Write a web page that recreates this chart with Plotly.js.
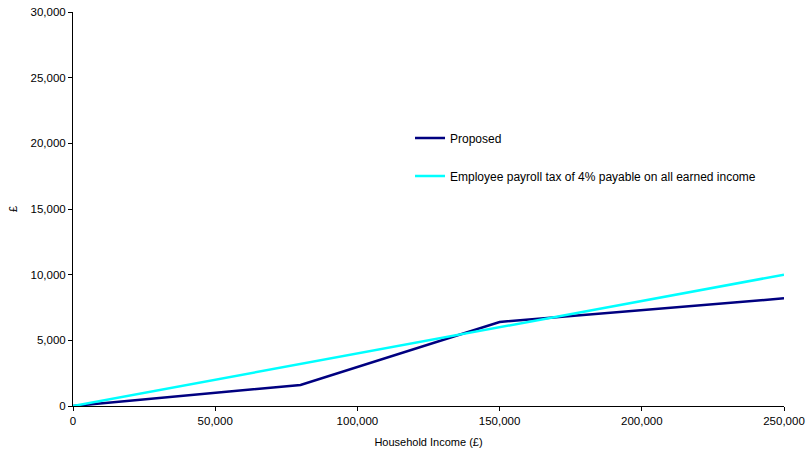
<!DOCTYPE html>
<html>
<head>
<meta charset="utf-8">
<script src="https://cdn.plot.ly/plotly-3.0.1.min.js"></script>
<style>html,body{margin:0;padding:0;background:#fff;}#chart{width:807px;height:456px;}</style>
</head>
<body>
<div id="chart"></div>
<script>
// Data
const proposedIncome = [0, 80000, 150000, 250000];
const proposedTax = [0, 1600, 6400, 8200];
const payrollIncome = [0, 250000];
const payrollTax = [0, 10000];
const seriesNames = ["Proposed", "Employee payroll tax of 4% payable on all earned income"];
const xTicks = [0, 50000, 100000, 150000, 200000, 250000];
const yTicks = [0, 5000, 10000, 15000, 20000, 25000, 30000];

const fam = "Liberation Sans, Arial, sans-serif";
const font = {family: fam, size: 11, color: "#000"};
const tickFont = {family: fam, size: 11.5, color: "#000"};
const legendFont = {family: fam, size: 12, color: "#000"};

const traces = [
  {x: proposedIncome, y: proposedTax, name: seriesNames[0], type: "scatter", mode: "lines",
   line: {color: "#000080", width: 2.5}, legendgroup: "a"},
  {x: payrollIncome, y: payrollTax, name: seriesNames[1], type: "scatter", mode: "lines",
   line: {color: "#00FFFF", width: 2.5}, legendgroup: "b"}
];

const layout = {
  width: 807, height: 456,
  margin: {l: 73, r: 23, t: 12, b: 50},
  paper_bgcolor: "#fff", plot_bgcolor: "#fff",
  font: font,
  showlegend: true,
  legend: {x: 0.474, y: 0.717, xanchor: "left", yanchor: "top", bgcolor: "rgba(0,0,0,0)",
           font: legendFont, traceorder: "grouped", tracegroupgap: 19},
  xaxis: {range: [0, 250000], tickvals: xTicks, tickformat: ",d", showgrid: false, zeroline: false,
          showline: true, linecolor: "#000", linewidth: 1, ticks: "outside", ticklen: 4, tickcolor: "#000",
          tickfont: tickFont,
          title: {text: "Household Income (£)", font: font, standoff: 12}},
  yaxis: {range: [0, 30000], tickvals: yTicks, tickformat: ",d", showgrid: false, zeroline: false,
          showline: true, linecolor: "#000", linewidth: 1, ticks: "outside", ticklen: 4, tickcolor: "#000",
          tickfont: tickFont,
          title: {text: "£", font: font, standoff: 10}}
};

Plotly.newPlot("chart", traces, layout, {displayModeBar: false, staticPlot: true});
</script>
</body>
</html>
